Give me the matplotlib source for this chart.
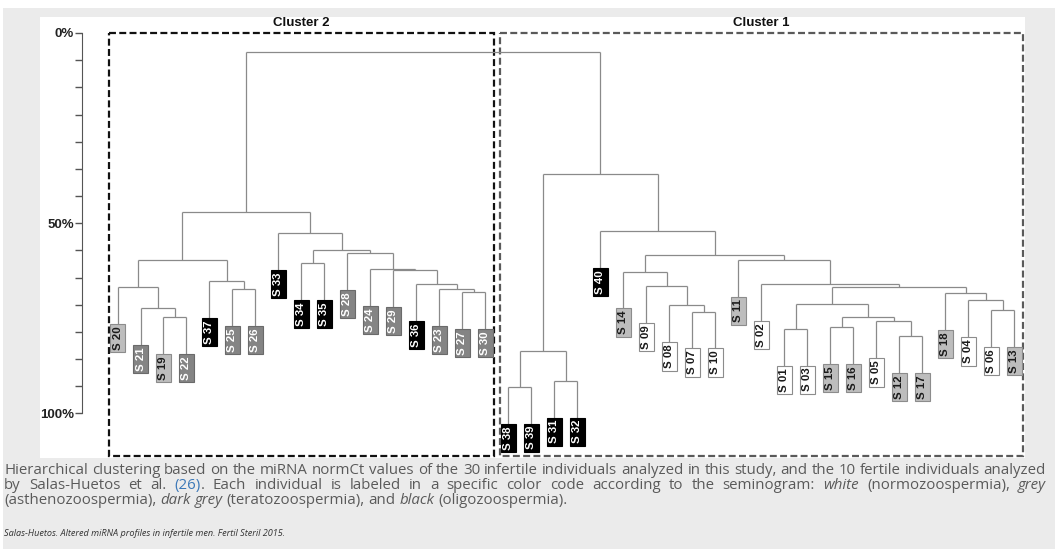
import matplotlib.pyplot as plt
from matplotlib.patches import Rectangle
import numpy as np

plt.rcParams['lines.scale_dashes'] = False
plt.rcParams['font.family'] = ['Liberation Sans', 'DejaVu Sans']

# leaf order of the dendrogram (left to right)
leaves = ['S 20', 'S 21', 'S 19', 'S 22', 'S 37', 'S 25', 'S 26', 'S 33', 'S 34', 'S 35',
          'S 28', 'S 24', 'S 29', 'S 36', 'S 23', 'S 27', 'S 30',
          'S 38', 'S 39', 'S 31', 'S 32', 'S 40', 'S 14', 'S 09', 'S 08', 'S 07', 'S 10',
          'S 11', 'S 02', 'S 01', 'S 03', 'S 15', 'S 16', 'S 05', 'S 12', 'S 17',
          'S 18', 'S 04', 'S 06', 'S 13']
n_cluster2 = 17

# seminogram groups
normo = ['S 01', 'S 02', 'S 03', 'S 04', 'S 05', 'S 06', 'S 07', 'S 08', 'S 09', 'S 10']
astheno = ['S 11', 'S 12', 'S 13', 'S 14', 'S 15', 'S 16', 'S 17', 'S 18', 'S 19', 'S 20']
terato = ['S 21', 'S 22', 'S 23', 'S 24', 'S 25', 'S 26', 'S 27', 'S 28', 'S 29', 'S 30']
oligo = ['S 31', 'S 32', 'S 33', 'S 34', 'S 35', 'S 36', 'S 37', 'S 38', 'S 39', 'S 40']

# merges: (node, left, right, height in %)
merges = [
    ('a1', 'S 19', 'S 22', 74.6),
    ('a2', 'S 21', 'a1', 72.2),
    ('a3', 'S 20', 'a2', 66.7),
    ('a4', 'S 25', 'S 26', 67.3),
    ('a5', 'S 37', 'a4', 65.2),
    ('a6', 'a3', 'a5', 59.7),
    ('b1', 'S 27', 'S 30', 68.0),
    ('b2', 'S 23', 'b1', 67.3),
    ('b3', 'S 36', 'b2', 66.0),
    ('b4', 'S 29', 'b3', 62.4),
    ('b5', 'S 24', 'b4', 62.0),
    ('b6', 'S 28', 'b5', 57.9),
    ('b7', 'S 34', 'S 35', 60.5),
    ('b8', 'b7', 'b6', 57.0),
    ('b9', 'S 33', 'b8', 52.6),
    ('c2', 'a6', 'b9', 47.1),
    ('d1', 'S 38', 'S 39', 93.0),
    ('d2', 'S 31', 'S 32', 91.4),
    ('d3', 'd1', 'd2', 83.6),
    ('e1', 'S 07', 'S 10', 73.2),
    ('e2', 'S 08', 'e1', 71.6),
    ('e3', 'S 09', 'e2', 66.6),
    ('e4', 'S 14', 'e3', 62.7),
    ('f1', 'S 12', 'S 17', 79.7),
    ('f2', 'S 05', 'f1', 75.8),
    ('f3', 'S 15', 'S 16', 77.3),
    ('f4', 'f3', 'f2', 74.7),
    ('f5', 'S 01', 'S 03', 77.7),
    ('f6', 'f5', 'f4', 71.2),
    ('g1', 'S 06', 'S 13', 72.8),
    ('g2', 'S 04', 'g1', 70.3),
    ('g3', 'S 18', 'g2', 68.4),
    ('h1', 'f6', 'g3', 66.7),
    ('h2', 'S 02', 'h1', 66.0),
    ('h3', 'S 11', 'h2', 59.7),
    ('h4', 'e4', 'h3', 58.4),
    ('h5', 'S 40', 'h4', 52.0),
    ('c1', 'd3', 'h5', 37.1),
    ('root', 'c2', 'c1', 4.9),
]
hang = 9.7

caption = [
    [[('Hierarchical', 'n', 'g')], [('clustering', 'n', 'g')], [('based', 'n', 'g')], [('on', 'n', 'g')],
     [('the', 'n', 'g')], [('miRNA', 'n', 'g')], [('normCt', 'n', 'g')], [('values', 'n', 'g')],
     [('of', 'n', 'g')], [('the', 'n', 'g')], [('30', 'n', 'g')], [('infertile', 'n', 'g')],
     [('individuals', 'n', 'g')], [('analyzed', 'n', 'g')], [('in', 'n', 'g')], [('this', 'n', 'g')],
     [('study,', 'n', 'g')], [('and', 'n', 'g')], [('the', 'n', 'g')], [('10', 'n', 'g')],
     [('fertile', 'n', 'g')], [('individuals', 'n', 'g')], [('analyzed', 'n', 'g')]],
    [[('by', 'n', 'g')], [('Salas-Huetos', 'n', 'g')], [('et', 'n', 'g')], [('al.', 'n', 'g')],
     [('(26)', 'n', 'b'), ('.', 'n', 'g')], [('Each', 'n', 'g')], [('individual', 'n', 'g')],
     [('is', 'n', 'g')], [('labeled', 'n', 'g')], [('in', 'n', 'g')], [('a', 'n', 'g')],
     [('specific', 'n', 'g')], [('color', 'n', 'g')], [('code', 'n', 'g')], [('according', 'n', 'g')],
     [('to', 'n', 'g')], [('the', 'n', 'g')], [('seminogram:', 'n', 'g')], [('white', 'i', 'g')],
     [('(normozoospermia),', 'n', 'g')], [('grey', 'i', 'g')]],
    [[('(asthenozoospermia),', 'n', 'g')], [('dark', 'i', 'g')], [('grey', 'i', 'g')],
     [('(teratozoospermia),', 'n', 'g')], [('and', 'n', 'g')], [('black', 'i', 'g')],
     [('(oligozoospermia).', 'n', 'g')]],
]
source = 'Salas-Huetos. Altered miRNA profiles in infertile men. Fertil Steril 2015.'

W, H = 1055, 549
fig = plt.figure(figsize=(W / 100, H / 100), dpi=100)
fig.patches.append(Rectangle((3 / W, 0), 1, 1 - 8 / H, transform=fig.transFigure,
                             fc='#ebebeb', ec='none', zorder=-5))
ax = fig.add_axes([40 / W, 1 - 458 / H, 985 / W, 441 / H])
ax.set_facecolor('white')
ax.set_xlim(-3.37, 39.46)
ax.set_ylim(111.7, -4.2)

# dendrogram
xpos = {name: i for i, name in enumerate(leaves)}
height = {}
for name, l, r, h in merges:
    xpos[name] = (xpos[l] + xpos[r]) / 2
    height[name] = h

styles = {}
for s in normo:
    styles[s] = ('white', '#8c8c8c', '#1a1a1a')
for s in astheno:
    styles[s] = ('#bdbdbd', '#8c8c8c', '#1a1a1a')
for s in terato:
    styles[s] = ('#848484', '#6a6a6a', 'white')
for s in oligo:
    styles[s] = ('black', 'black', 'white')

lab_fs = 8.2
lab_pad = 0.2
lkw = dict(color='#8a8a8a', lw=0.9, solid_capstyle='butt')
for name, l, r, h in merges:
    ax.plot([xpos[l], xpos[r]], [h, h], **lkw)
    for c in (l, r):
        bottom = height.get(c, h + hang)
        ax.plot([xpos[c], xpos[c]], [h, bottom], **lkw)
        if c in styles:
            fc, ec, tc = styles[c]
            ax.annotate(c, xy=(xpos[c], bottom), xytext=(0, -lab_pad * lab_fs),
                        textcoords='offset points', rotation=90, ha='center', va='top',
                        fontsize=lab_fs, fontweight='bold', color=tc,
                        bbox=dict(boxstyle='square,pad=%.2f' % lab_pad, fc=fc, ec=ec, lw=0.8))

# cluster boxes
pad = 0.38
for lo, hi, col, title in [(0, n_cluster2 - 1, '#111111', 'Cluster 2'),
                           (n_cluster2, len(leaves) - 1, '#5a5a5a', 'Cluster 1')]:
    ax.add_patch(Rectangle((lo - pad, 0), hi - lo + 2 * pad, 111.3, fill=False, ec=col,
                           lw=1.6, ls=(0, (5.0, 2.4)), clip_on=False))
    ax.text((lo + hi) / 2, -2.5, title, ha='center', va='center', fontsize=9.5,
            fontweight='bold', color='#111111')

# y axis
for s in ['top', 'right', 'bottom']:
    ax.spines[s].set_visible(False)
ax.spines['left'].set_position(('data', -1.54))
ax.spines['left'].set_bounds(0, 100)
ax.spines['left'].set_color('#555555')
ax.set_xticks([])
ticks = np.linspace(0, 100, 15)
ax.set_yticks(ticks)
ax.set_yticklabels(['0%'] + [''] * 6 + ['50%'] + [''] * 6 + ['100%'])
ax.tick_params(axis='y', direction='out', length=5, width=1, color='#555555', pad=1,
               labelsize=9.5, labelcolor='#222222')
for t in ax.get_yticklabels():
    t.set_fontweight('bold')

# caption (justified)
renderer = fig.canvas.get_renderer()
cap_font = 'Open Sans'
colors = {'g': '#5a5a5a', 'b': '#3b78b8'}


def seg_width(txt, style, fs):
    t = fig.text(0, 0, txt, fontsize=fs, family=cap_font,
                 style='italic' if style == 'i' else 'normal')
    w = t.get_window_extent(renderer).width
    t.remove()
    return w


def word_width(word, fs):
    return sum(seg_width(s, st, fs) for s, st, _ in word)


x0, x1 = 4, 1046
natural = sum(word_width(w, 10) for w in caption[0]) + (len(caption[0]) - 1) * (
    seg_width('x x', 'n', 10) - seg_width('xx', 'n', 10))
fs = 10 * (x1 - x0) / natural
space = seg_width('x x', 'n', fs) - seg_width('xx', 'n', fs)
baselines = [474, 489, 504]
for k, line in enumerate(caption):
    widths = [word_width(w, fs) for w in line]
    if k < len(caption) - 1:
        gap = (x1 - x0 - sum(widths)) / (len(line) - 1)
    else:
        gap = space
    x = x0
    for w, ww in zip(line, widths):
        xs = x
        for s, st, c in w:
            fig.text(xs / W, 1 - baselines[k] / H, s, fontsize=fs, family=cap_font,
                     style='italic' if st == 'i' else 'normal', color=colors[c], va='baseline')
            xs += seg_width(s, st, fs)
        x += ww + gap

fig.text(4 / W, 1 - 536 / H, source, fontsize=6.6, family=cap_font, style='italic',
         color='#333333', va='baseline')

fig.savefig('out.png', dpi=100)
